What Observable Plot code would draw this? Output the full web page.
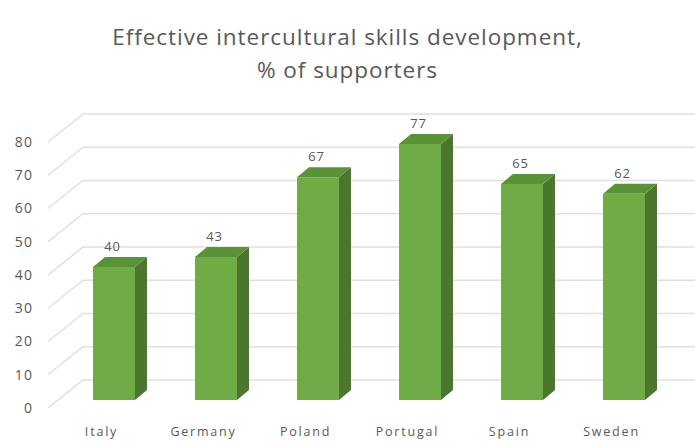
<!DOCTYPE html>
<html>
<head>
<meta charset="utf-8">
<script src="https://cdn.jsdelivr.net/npm/d3@7"></script>
<script src="https://cdn.jsdelivr.net/npm/@observablehq/plot@0.6"></script>
<style>
  html, body { margin: 0; padding: 0; background: #fff; }
  #wrap { width: 695px; height: 441px; overflow: hidden; }
  #title { font-family: "Open Sans", Lato, sans-serif; font-size: 22.5px; letter-spacing: 0.95px; color: #595959;
           text-align: center; line-height: 33px; padding-top: 20px; height: 70px; }
  svg { display: block; }
  .ytick text { letter-spacing: 1.4px; }
  .vlabel text { letter-spacing: 0.8px; }
  .xtick text { letter-spacing: 1.8px; }
</style>
</head>
<body>
<div id="wrap">
  <div id="title"></div>
  <div id="chart"></div>
</div>
<script>
const titleLines = ["Effective intercultural skills development,", "% of supporters"];
const countries = ["Italy", "Germany", "Poland", "Portugal", "Spain", "Sweden"];
const values = [40, 43, 67, 77, 65, 62];
const yTicks = [0, 10, 20, 30, 40, 50, 60, 70, 80];

const data = countries.map((c, i) => ({country: c, value: values[i]}));

document.getElementById("title").innerHTML = titleLines.join("<br>");

const frontColor = "#6fac46";
const sideColor = "#4a772c";
const topColor = "#5a9237";
const gridColor = "#e0e0e0";
const textColor = "#595959";
const depthX = 12, depthY = 10;   // 3D extrusion offsets (px)

// 3D back-wall gridlines with diagonal side-wall segments
function gridMark(index, scales, values, dims) {
  const {y} = scales;
  const g = d3.create("svg:g").attr("fill", "none").attr("stroke", gridColor).attr("stroke-width", 1.6);
  for (const t of yTicks) {
    const yy = y(t);
    g.append("path").attr("d", `M48,${yy + 8}L83,${yy - 20}L${dims.width},${yy - 20}`);
  }
  return g.node();
}

// side and top faces of the bars
function depthMark(index, scales, values, dims) {
  const {x, y} = scales;
  const bw = x.bandwidth();
  const g = d3.create("svg:g");
  for (const d of data) {
    const x0 = x(d.country), x1 = x0 + bw;
    const y0 = y(0), y1 = y(d.value);
    g.append("path").attr("fill", sideColor)
      .attr("d", `M${x1},${y0}L${x1 + depthX},${y0 - depthY}L${x1 + depthX},${y1 - depthY}L${x1},${y1}Z`);
    g.append("path").attr("fill", topColor)
      .attr("d", `M${x0},${y1}L${x0 + depthX},${y1 - depthY}L${x1 + depthX},${y1 - depthY}L${x1},${y1}Z`);
  }
  return g.node();
}

const chart = Plot.plot({
  width: 695,
  height: 351,
  marginTop: 44,
  marginBottom: 41,
  marginLeft: 90,
  marginRight: 48,
  style: {fontFamily: "'Open Sans', Lato, sans-serif", background: "#fff"},
  x: {domain: countries, paddingInner: 0.592, paddingOuter: 0, label: null},
  y: {domain: [0, 80], label: null},
  marks: [
    gridMark,
    depthMark,
    Plot.barY(data, {x: "country", y: "value", fill: frontColor}),
    Plot.text(data, {x: "country", y: "value", text: d => String(d.value), dy: -21, dx: -2,
                     fontSize: 13, fill: textColor, className: "vlabel"}),
    Plot.axisY(yTicks, {tickSize: 0, tickPadding: 57, dy: 8, fontSize: 14, color: textColor, className: "ytick"}),
    Plot.axisX({tickSize: 0, tickPadding: 27, dx: -13, fontSize: 12.5, color: textColor, className: "xtick"})
  ]
});
document.getElementById("chart").appendChild(chart);
</script>
</body>
</html>
